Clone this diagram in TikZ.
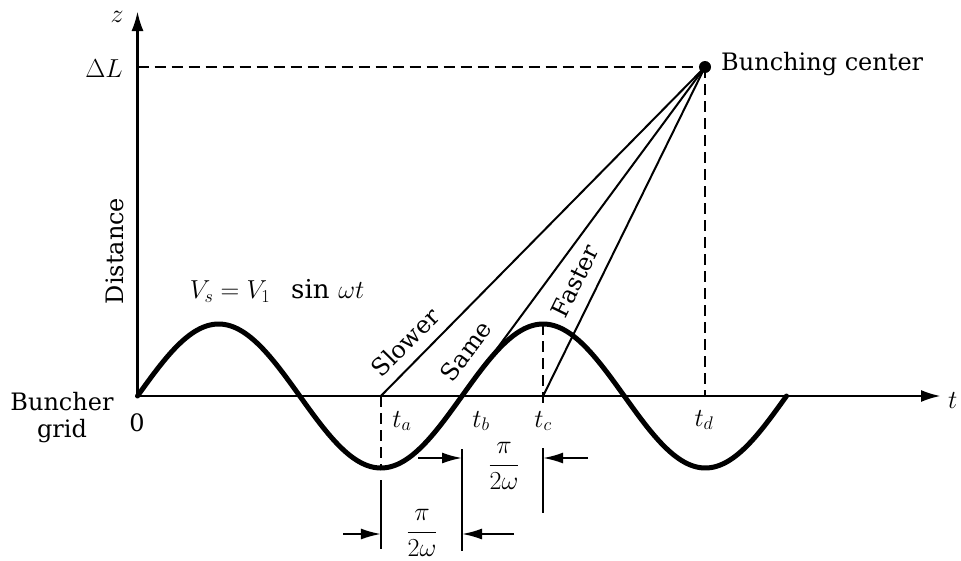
\RequirePackage{fix-cm}
\documentclass[tikz,border=0pt]{standalone}
\usepackage{fontspec}
\setmainfont{DejaVu Serif}
\usetikzlibrary{arrows.meta}
\begin{document}
\begin{tikzpicture}[x=1pt,y=-1pt,
  axis/.style={line width=2.7pt},
  axtip/.style={-{Latex[length=20pt,width=12pt]}},
  wave/.style={line width=5pt, line join=round, line cap=round},
  ray/.style={line width=2pt},
  guide/.style={line width=2pt, dash pattern=on 11pt off 6pt},
  ext/.style={line width=2.3pt},
  dimarrow/.style={line width=2pt,-{Latex[length=20pt,width=11pt]}},
  txt/.style={font=\fontsize{24}{27}\selectfont, inner sep=0pt},
  mth/.style={font=\fontsize{26}{30}\selectfont, inner sep=0pt}]
\useasboundingbox (0,0) rectangle (961,560);
% key points
\coordinate (O) at (137.5,396);
\coordinate (zend) at (137.5,11);
\coordinate (tend) at (941,396);
\coordinate (zL) at (137.5,67);
\coordinate (ta) at (380.9,396);
\coordinate (tb) at (462,396);
\coordinate (tc) at (543.1,396);
\coordinate (td) at (705,396);
\coordinate (taTr) at (380.9,468);
\coordinate (tcPk) at (543.1,324);
\coordinate (tcLo) at (543.1,408);
% axes
\draw[axis,axtip] (O) -- (zend);
\draw[axis,axtip] (O) -- (tend);
% wave
\draw[wave] plot[domain=0:720, samples=260] ({137.5+\x*0.901389},{396-72*sin(\x)});
% bunching center
\node[circle, fill, inner sep=0pt, minimum size=12pt] (bc) at (705,67) {};
\node[txt, anchor=west] (bclabel) at (721,64) {Bunching center};
% dashed guides
\draw[guide] (zL) -- (bc.center);
\draw[guide] (bc.center) -- (td);
\draw[guide] (ta) -- (taTr);
\draw[guide] (tcPk) -- (tcLo);
% rays
\draw[ray] (ta) -- (bc.center);
\draw[ray] (tb) -- (bc.center);
\draw[ray] (tc) -- (bc.center);
% ray labels
\node[txt, rotate=45.4] (slower) at (405,342) {Slower};
\node[txt, rotate=53.5] (same) at (466,351) {Same};
\node[txt, rotate=63.8] (faster) at (575,281) {Faster};
% axis labels
\node[mth] (zlab) at (117,17) {$z$};
\node[mth] (dl) at (104,69) {$\Delta L$};
\node[mth, anchor=west] (tlab) at (948,400) {$t$};
\node[txt, rotate=90] (dist) at (115,251) {Distance};
\node[txt] (zero) at (137,423) {0};
\node[txt, align=center] (grid) at (62,418) {Buncher\\grid};
\node[mth] (vs) at (277,291) {$V_s = V_1\ \ \sin\,\omega t$};
% time labels
\node[mth] (lta) at (402,421) {$t_a$};
\node[mth] (ltb) at (481,421) {$t_b$};
\node[mth] (ltc) at (543,421) {$t_c$};
\node[mth] (ltd) at (704,420) {$t_d$};
% dimension extension lines
\coordinate (ea1) at (380.9,480); \coordinate (ea2) at (380.9,549);
\coordinate (eb1) at (462,449);   \coordinate (eb2) at (462,551);
\coordinate (ec1) at (543.1,448); \coordinate (ec2) at (543.1,513);
\draw[ext] (ea1) -- (ea2);
\draw[ext] (eb1) -- (eb2);
\draw[ext] (ec1) -- (ec2);
% dimension arrows
\coordinate (u1) at (418,458); \coordinate (u1e) at (462,458);
\coordinate (u2) at (588,458); \coordinate (u2e) at (543.1,458);
\coordinate (l1) at (343,534); \coordinate (l1e) at (380.9,534);
\coordinate (l2) at (514,534); \coordinate (l2e) at (462,534);
\draw[dimarrow] (u1) -- (u1e);
\draw[dimarrow] (u2) -- (u2e);
\draw[dimarrow] (l1) -- (l1e);
\draw[dimarrow] (l2) -- (l2e);
\node[mth] (fu) at (504,466) {$\displaystyle\frac{\pi}{2\omega}$};
\node[mth] (fl) at (422,533) {$\displaystyle\frac{\pi}{2\omega}$};
\end{tikzpicture}
\end{document}
